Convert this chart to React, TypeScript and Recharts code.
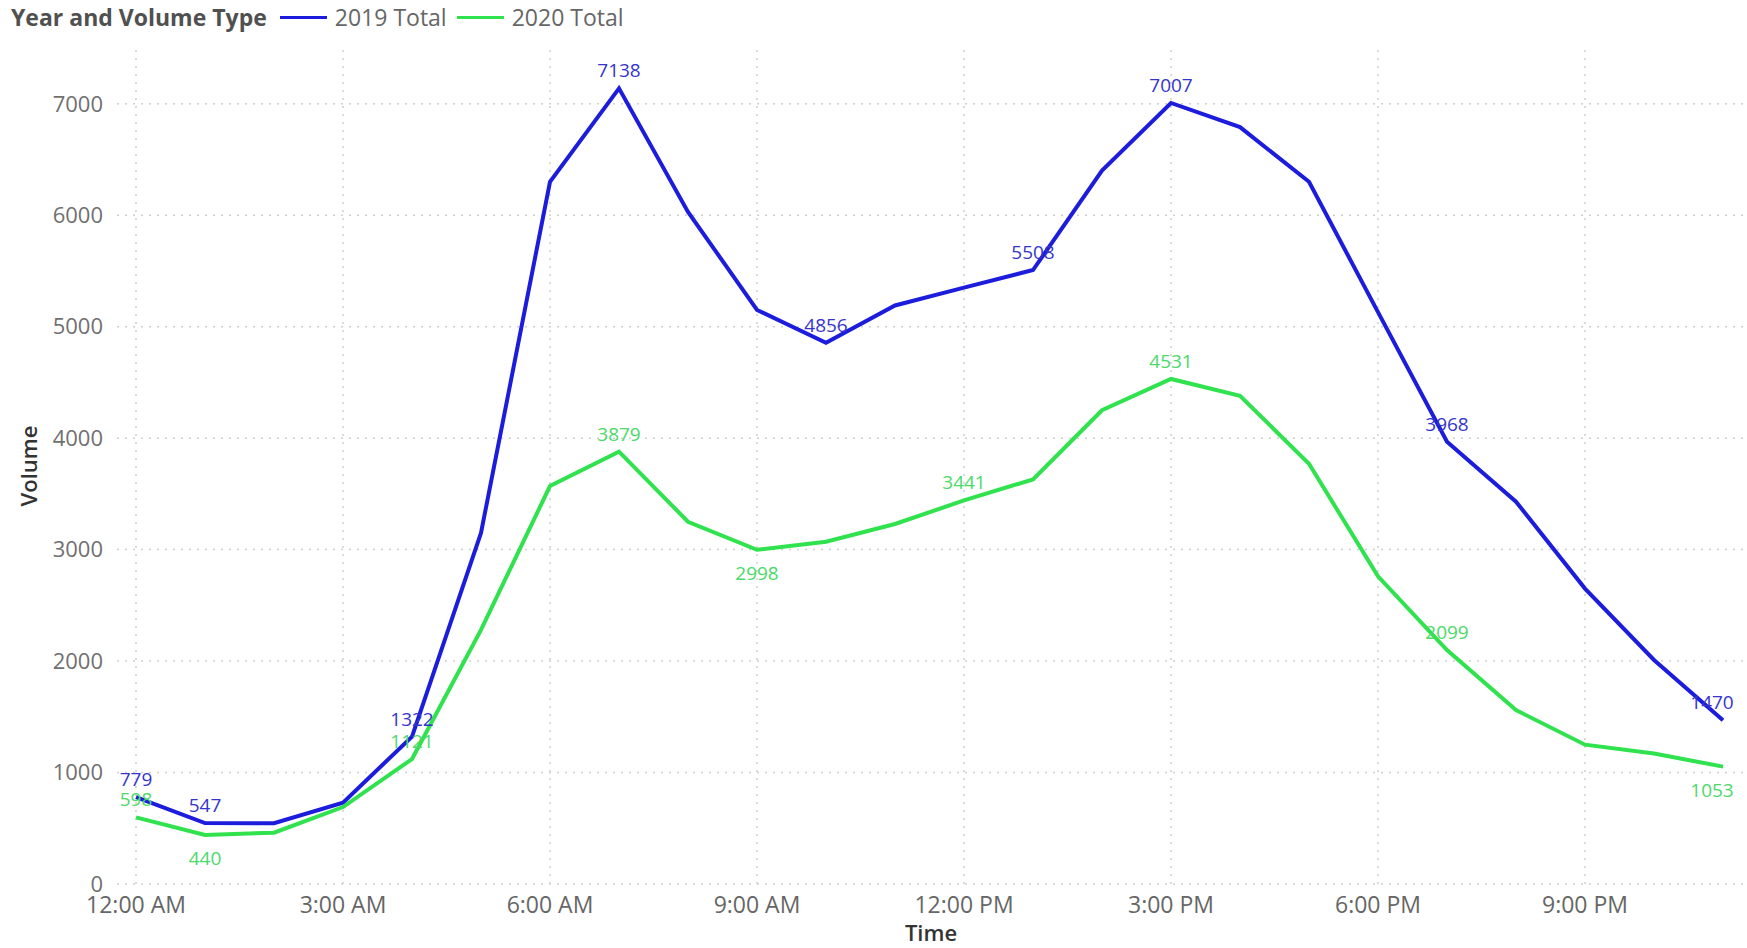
import React from 'react';
import {
  LineChart,
  Line,
  XAxis,
  YAxis,
  ReferenceLine,
  Legend,
  LabelList,
} from 'recharts';

const hours = [0, 1, 2, 3, 4, 5, 6, 7, 8, 9, 10, 11, 12, 13, 14, 15, 16, 17, 18, 19, 20, 21, 22, 23];
const hourLabels = [
  '12:00 AM', '1:00 AM', '2:00 AM', '3:00 AM', '4:00 AM', '5:00 AM',
  '6:00 AM', '7:00 AM', '8:00 AM', '9:00 AM', '10:00 AM', '11:00 AM',
  '12:00 PM', '1:00 PM', '2:00 PM', '3:00 PM', '4:00 PM', '5:00 PM',
  '6:00 PM', '7:00 PM', '8:00 PM', '9:00 PM', '10:00 PM', '11:00 PM',
];
const xTicks = [0, 3, 6, 9, 12, 15, 18, 21];
const yTicks = [0, 1000, 2000, 3000, 4000, 5000, 6000, 7000];

const total2019 = [
  779, 547, 545, 730, 1322, 3150, 6300, 7138, 6030, 5150, 4856, 5190,
  5350, 5508, 6400, 7007, 6790, 6300, 5130, 3968, 3430, 2650, 2010, 1470,
];
const total2020 = [
  598, 440, 460, 690, 1121, 2280, 3570, 3879, 3250, 2998, 3070, 3230,
  3441, 3630, 4250, 4531, 4380, 3770, 2760, 2099, 1560, 1250, 1170, 1053,
];

// which points carry a data label (as in the source visual)
const labeled2019 = [0, 1, 4, 7, 10, 13, 15, 19, 23];
const labeled2020Above = [0, 4, 7, 12, 15, 19];
const labeled2020Below = [1, 9, 23];

const BLUE = '#1c1cdc';
const GREEN = '#30e24e';
const GRID = '#cfcfcf';
const FONT = '"Open Sans", "Noto Sans", sans-serif';
const LAST = hours.length - 1;

const data = hours.map((h, i) => ({
  hour: h,
  y2019: total2019[i],
  y2020: total2020[i],
  lab2019: labeled2019.includes(i) ? total2019[i] : null,
  lab2020Up: labeled2020Above.includes(i) ? total2020[i] : null,
  lab2020Down: labeled2020Below.includes(i) ? total2020[i] : null,
}));

const pointLabel = (color: string, below: boolean) => (props: any) => {
  const { x, y, value, index } = props;
  if (value === null || value === undefined) return null;
  // keep the end label inside the plot, like Power BI does
  const dx = index === LAST ? -11 : 0;
  return (
    <text
      x={x + dx}
      y={below ? y + 30 : y - 11}
      textAnchor="middle"
      fill={color}
      fontSize={19}
      fontFamily={FONT}
    >
      {value}
    </text>
  );
};

function LegendBox() {
  const item = (color: string, text: string) => (
    <span style={{ display: 'inline-flex', alignItems: 'center', marginRight: 10 }}>
      <span style={{ display: 'inline-block', width: 47, height: 3, background: color, marginRight: 8 }} />
      <span style={{ color: '#666', fontSize: 23 }}>{text}</span>
    </span>
  );
  return (
    <div style={{ display: 'flex', alignItems: 'center', fontFamily: FONT, paddingLeft: 11, height: 34 }}>
      <span style={{ fontWeight: 700, color: '#505050', fontSize: 23, marginRight: 13 }}>
        Year and Volume Type
      </span>
      {item(BLUE, '2019 Total')}
      {item(GREEN, '2020 Total')}
    </div>
  );
}

export default function App() {
  return (
    <div style={{ position: 'fixed', left: 0, top: 0, width: 1747, height: 948, background: '#fff' }}>
      <LineChart
        width={1747}
        height={948}
        data={data}
        margin={{ top: 14, right: 2, bottom: 0, left: 0 }}
      >
        <Legend
          verticalAlign="top"
          align="left"
          height={34}
          content={() => <LegendBox />}
          wrapperStyle={{ top: 0, left: 0 }}
        />
        {yTicks.map((t) => (
          <ReferenceLine key={'gy' + t} y={t} stroke={GRID} strokeWidth={1.5} strokeDasharray="2 6" />
        ))}
        {xTicks.map((t) => (
          <ReferenceLine key={'gx' + t} x={t} stroke={GRID} strokeWidth={1.5} strokeDasharray="2 6" />
        ))}
        <XAxis
          dataKey="hour"
          type="number"
          domain={[0, 23]}
          ticks={xTicks}
          tickFormatter={(v: number) => hourLabels[v]}
          padding={{ left: 19, right: 22 }}
          axisLine={false}
          tickLine={false}
          tickSize={0}
          tickMargin={13}
          height={64}
          tick={{ fill: '#666', fontSize: 23, fontFamily: FONT }}
          label={{
            value: 'Time',
            position: 'insideBottom',
            offset: 7,
            fill: '#333',
            fontSize: 22,
            fontWeight: 600,
            fontFamily: FONT,
          }}
        />
        <YAxis
          type="number"
          domain={[0, 7500]}
          ticks={yTicks}
          axisLine={false}
          tickLine={false}
          tickSize={0}
          tickMargin={14}
          width={117}
          tick={{ fill: '#707070', fontSize: 22, fontFamily: FONT }}
          label={({ viewBox }: any) => {
            const cy = viewBox.y + viewBox.height / 2;
            return (
              <text
                x={28}
                y={cy}
                transform={`rotate(-90, 28, ${cy})`}
                textAnchor="middle"
                dominantBaseline="central"
                fill="#333"
                fontSize={22}
                fontWeight={600}
                fontFamily={FONT}
              >
                Volume
              </text>
            );
          }}
        />
        <Line
          type="linear"
          dataKey="y2019"
          name="2019 Total"
          stroke={BLUE}
          strokeWidth={4}
          dot={false}
          activeDot={false}
          isAnimationActive={false}
        >
          <LabelList dataKey="lab2019" content={pointLabel('#3535cc', false)} />
        </Line>
        <Line
          type="linear"
          dataKey="y2020"
          name="2020 Total"
          stroke={GREEN}
          strokeWidth={4}
          dot={false}
          activeDot={false}
          isAnimationActive={false}
        >
          <LabelList dataKey="lab2020Up" content={pointLabel('#4cd96a', false)} />
          <LabelList dataKey="lab2020Down" content={pointLabel('#4cd96a', true)} />
        </Line>
      </LineChart>
    </div>
  );
}
